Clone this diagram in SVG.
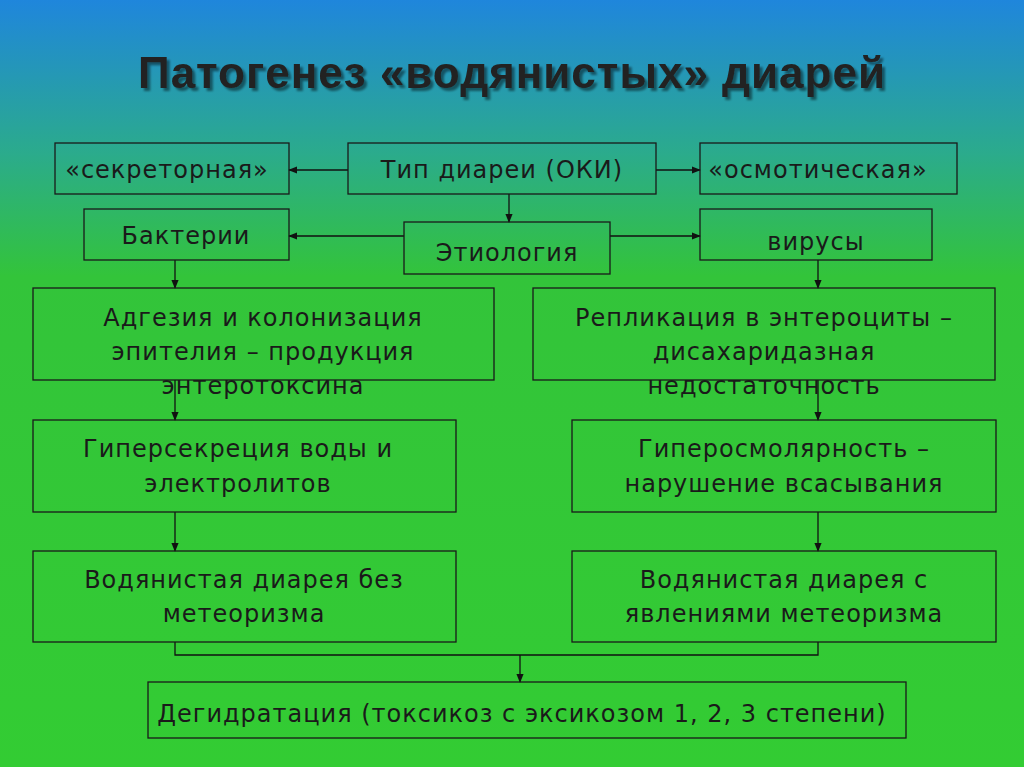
<svg xmlns="http://www.w3.org/2000/svg" width="1024" height="767" viewBox="0 0 1024 767">
<defs>
<linearGradient id="bg" x1="0" y1="0" x2="0" y2="1">
<stop offset="0" stop-color="#1f86dc"/>
<stop offset="0.2" stop-color="#2bab8c"/>
<stop offset="0.36" stop-color="#33c43a"/>
<stop offset="1" stop-color="#33cc33"/>
</linearGradient>
<filter id="sh" x="-5%" y="-20%" width="110%" height="140%">
<feDropShadow dx="3" dy="3" stdDeviation="1" flood-color="#000" flood-opacity="0.45"/>
</filter>
<marker id="ah" viewBox="0 0 10 10" refX="9" refY="5" markerWidth="7" markerHeight="7" orient="auto">
<path d="M0,1 L10,5 L0,9 z" fill="#111"/>
</marker>
<style>
.b{fill:none;stroke:#1a1a1a;stroke-width:1.3}
.t{font-family:"DejaVu Sans","Liberation Sans",sans-serif;font-size:24px;letter-spacing:1px;fill:#1a1a1a;text-anchor:middle}
.c{fill:none;stroke:#111;stroke-width:1.3}
</style>
</defs>
<rect width="1024" height="767" fill="url(#bg)"/>
<text x="512" y="88" font-family="Liberation Sans,Arial,sans-serif" font-size="44" font-weight="bold" letter-spacing="1" fill="#222" text-anchor="middle" filter="url(#sh)">Патогенез «водянистых» диарей</text>
<g id="connectors">
<path class="c" d="M348,170 H289" marker-end="url(#ah)"/>
<path class="c" d="M656,170 H700" marker-end="url(#ah)"/>
<path class="c" d="M509,194 V222" marker-end="url(#ah)"/>
<path class="c" d="M404,236 H289" marker-end="url(#ah)"/>
<path class="c" d="M610,236 H700" marker-end="url(#ah)"/>
<path class="c" d="M175,260 V288" marker-end="url(#ah)"/>
<path class="c" d="M818,260 V288" marker-end="url(#ah)"/>
<path class="c" d="M175,380 V420" marker-end="url(#ah)"/>
<path class="c" d="M818,380 V420" marker-end="url(#ah)"/>
<path class="c" d="M175,512 V551" marker-end="url(#ah)"/>
<path class="c" d="M818,512 V551" marker-end="url(#ah)"/>
<path class="c" d="M175,642 V655 H818 V642"/>
<path class="c" d="M520,655 V682" marker-end="url(#ah)"/>
</g>
<g id="n1"><rect class="b" x="55" y="143" width="234" height="51"/><text class="t" x="167" y="178">«секреторная»</text></g>
<g id="n2"><rect class="b" x="348" y="143" width="308" height="51"/><text class="t" x="502" y="178">Тип диареи (ОКИ)</text></g>
<g id="n3"><rect class="b" x="700" y="143" width="257" height="51"/><text class="t" x="818" y="178">«осмотическая»</text></g>
<g id="n4"><rect class="b" x="84" y="209" width="205" height="51"/><text class="t" x="186" y="244">Бактерии</text></g>
<g id="n5"><rect class="b" x="404" y="222" width="206" height="52"/><text class="t" x="507" y="261">Этиология</text></g>
<g id="n6"><rect class="b" x="700" y="209" width="232" height="51"/><text class="t" x="816" y="250">вирусы</text></g>
<g id="n7"><rect class="b" x="33" y="288" width="461" height="92"/><text class="t" x="263" y="326">Адгезия и колонизация</text><text class="t" x="263" y="360">эпителия – продукция</text><text class="t" x="263" y="394">энтеротоксина</text></g>
<g id="n8"><rect class="b" x="533" y="288" width="462" height="92"/><text class="t" x="764" y="326">Репликация в энтероциты –</text><text class="t" x="764" y="360">дисахаридазная</text><text class="t" x="764" y="394">недостаточность</text></g>
<g id="n9"><rect class="b" x="33" y="420" width="423" height="92"/><text class="t" x="238" y="457">Гиперсекреция воды и</text><text class="t" x="238" y="492">электролитов</text></g>
<g id="n10"><rect class="b" x="572" y="420" width="424" height="92"/><text class="t" x="784" y="457">Гиперосмолярность –</text><text class="t" x="784" y="492">нарушение всасывания</text></g>
<g id="n11"><rect class="b" x="33" y="551" width="423" height="91"/><text class="t" x="244" y="588">Водянистая диарея без</text><text class="t" x="244" y="622">метеоризма</text></g>
<g id="n12"><rect class="b" x="572" y="551" width="424" height="91"/><text class="t" x="784" y="588">Водянистая диарея с</text><text class="t" x="784" y="622">явлениями метеоризма</text></g>
<g id="n13"><rect class="b" x="148" y="682" width="758" height="56"/><text class="t" x="522" y="722">Дегидратация (токсикоз с эксикозом 1, 2, 3 степени)</text></g>
</svg>
